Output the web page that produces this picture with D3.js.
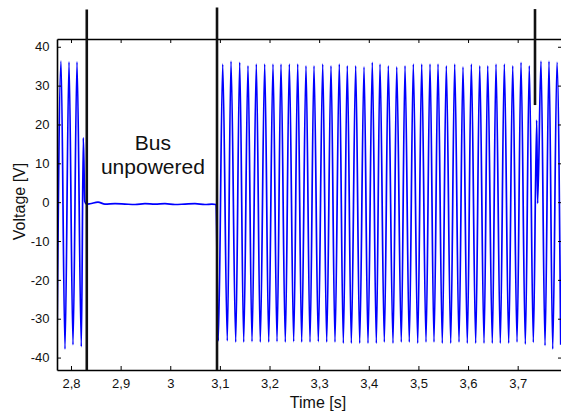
<!DOCTYPE html>
<html>
<head>
<meta charset="utf-8">
<script src="https://cdn.jsdelivr.net/npm/d3@7"></script>
<style>
  html, body { margin: 0; padding: 0; background: #fff; }
  svg { display: block; font-family: "Liberation Sans", Arial, Helvetica, sans-serif; }
</style>
</head>
<body>
<svg id="chart" width="561" height="414"></svg>
<script>
// ---- data ----
const timeS = [
  2.7718, 2.7799, 2.7879, 2.7960, 2.8040, 2.8121, 2.8208, 2.8248, 2.8278, 2.8312,
  2.8383, 2.8544, 2.8685, 2.8887, 2.9088, 2.9290, 2.9491, 2.9693, 2.9894, 3.0095,
  3.0297, 3.0498, 3.0700, 3.0841, 3.0922,
  3.0968, 3.1057, 3.1149, 3.1224, 3.1319, 3.1399, 3.1480, 3.1566, 3.1647, 3.1734,
  3.1814, 3.1903, 3.1984, 3.2070, 3.2151, 3.2231, 3.2318, 3.2399, 3.2487, 3.2568,
  3.2648, 3.2735, 3.2816, 3.2896, 3.2983, 3.3072, 3.3152, 3.3239, 3.3319, 3.3406,
  3.3487, 3.3567, 3.3648, 3.3736, 3.3817, 3.3904, 3.3984, 3.4071, 3.4152, 3.4226,
  3.4313, 3.4393, 3.4488, 3.4563, 3.4655, 3.4730, 3.4816, 3.4897, 3.4986, 3.5066,
  3.5153, 3.5234, 3.5314, 3.5395, 3.5481, 3.5562, 3.5651, 3.5731, 3.5818, 3.5898,
  3.5985, 3.6066, 3.6154, 3.6235, 3.6322, 3.6396, 3.6489, 3.6563, 3.6650, 3.6731,
  3.6819, 3.6900, 3.6987, 3.7067, 3.7154, 3.7234, 3.7315, 3.7383, 3.7402, 3.7470,
  3.7551, 3.7631, 3.7706, 3.7792, 3.7867
];
const voltageV = [
  -36.5, 36.3, -37.8, 36.1, -36.7, 36.1, -37.2, 16.6, 0.2, -0.5,
  -0.4, 0.0, -0.5, -0.4, -0.5, -0.6, -0.4, -0.5, -0.4, -0.6,
  -0.5, -0.4, -0.6, -0.5, -0.6,
  -35.7, 35.55, -35.7, 36.3, -36.0, 36.0, -36.0, 35.1, -35.9, 35.55,
  -36.0, 35.55, -36.0, 35.55, -35.9, 35.55, -36.0, 35.55, -35.9, 35.55,
  -36.0, 35.1, -36.0, 35.1, -35.9, 35.55, -36.0, 35.1, -36.0, 35.55,
  -36.3, 35.1, -36.3, 35.1, -36.3, 34.8, -36.3, 36.0, -36.3, 35.55,
  -36.0, 35.1, -36.3, 34.8, -36.0, 35.1, -36.0, 35.55, -36.3, 35.55,
  -36.0, 35.55, -36.0, 35.55, -36.3, 35.1, -36.3, 35.55, -36.0, 34.8,
  -36.3, 35.55, -36.3, 35.1, -36.3, 35.1, -36.3, 35.55, -36.3, 35.55,
  -36.3, 35.1, -36.0, 36.0, -36.55, 35.1, -36.1, 21.1, -0.3, 36.3,
  -36.9, 36.3, -37.8, 36.0, -36.7
];
// event markers (vertical black bars)
const markerTimes = [2.8318, 3.0942, 3.7349];
const markerTopV = [49.6, 50.1, 49.7];
const markerBottomV = [-43.2, -43.2, 25.0];

const xTicks = [2.8, 2.9, 3.0, 3.1, 3.2, 3.3, 3.4, 3.5, 3.6, 3.7];
const xTickLabels = ["2,8", "2,9", "3", "3,1", "3,2", "3,3", "3,4", "3,5", "3,6", "3,7"];
const yTicks = [-40, -30, -20, -10, 0, 10, 20, 30, 40];
const yTickLabels = ["-40", "-30", "-20", "-10", "0", "10", "20", "30", "40"];
const xDomain = [2.7718, 3.7893];
const yDomain = [-43.2, 42.0];
const annotation = ["Bus", "unpowered"];
const annotationAt = [2.965, 32.0];
const xTitle = "Time [s]";
const yTitle = "Voltage [V]";

// ---- layout ----
const plotL = 57, plotR = 562, plotT = 39, plotB = 370;
const svg = d3.select("#chart");

const x = d3.scaleLinear().domain(xDomain).range([plotL, plotR]);
const y = d3.scaleLinear().domain(yDomain).range([plotB, plotT]);

svg.append("defs").append("clipPath").attr("id", "clip")
  .append("rect").attr("x", plotL).attr("y", plotT)
  .attr("width", plotR - plotL).attr("height", plotB - plotT);

// signal
const line = d3.line()
  .x((d, i) => x(timeS[i]))
  .y(d => y(d))
  .curve(d3.curveMonotoneX);

svg.append("path")
  .attr("clip-path", "url(#clip)")
  .attr("d", line(voltageV))
  .attr("fill", "none")
  .attr("stroke", "#0000ff")
  .attr("stroke-width", 1.7)
  .attr("stroke-linejoin", "round");

// axes
const fmtX = d => xTickLabels[xTicks.indexOf(d)];
const fmtY = d => yTickLabels[yTicks.indexOf(d)];

function styleAxis(g) {
  g.select(".domain").attr("stroke", "#000").attr("stroke-width", 1.6);
  g.selectAll(".tick line").attr("stroke", "#000").attr("stroke-width", 1);
  g.selectAll(".tick text").attr("fill", "#111").attr("font-size", 13)
    .attr("font-family", "'Liberation Sans', Arial, sans-serif");
}

svg.append("g").attr("transform", `translate(0,${plotB})`)
  .call(d3.axisBottom(x).tickValues(xTicks).tickFormat(fmtX).tickSizeInner(-4).tickSizeOuter(0).tickPadding(9))
  .call(styleAxis);
svg.append("g").attr("transform", `translate(0,${plotT})`)
  .call(d3.axisTop(x).tickValues(xTicks).tickFormat("").tickSizeInner(-4).tickSizeOuter(0))
  .call(styleAxis);
svg.append("g").attr("transform", `translate(${plotL},0)`)
  .call(d3.axisLeft(y).tickValues(yTicks).tickFormat(fmtY).tickSizeInner(-4).tickSizeOuter(0).tickPadding(7.5))
  .call(styleAxis);
svg.append("g").attr("transform", `translate(${plotR},0)`)
  .call(d3.axisRight(y).tickValues(yTicks).tickFormat("").tickSizeInner(-4).tickSizeOuter(0))
  .call(styleAxis);

// event markers
svg.append("g").selectAll("line").data(markerTimes).join("line")
  .attr("x1", d => x(d)).attr("x2", d => x(d))
  .attr("y1", (d, i) => y(markerTopV[i]))
  .attr("y2", (d, i) => y(markerBottomV[i]))
  .attr("stroke", "#111").attr("stroke-width", 2.6);

// titles
svg.append("text")
  .attr("x", 318).attr("y", 408)
  .attr("text-anchor", "middle").attr("font-size", 16).attr("fill", "#111")
  .text(xTitle);
svg.append("text")
  .attr("transform", "translate(25,201.5) rotate(-90)")
  .attr("text-anchor", "middle").attr("font-size", 16).attr("fill", "#111")
  .text(yTitle);

// annotation
const ann = svg.append("text")
  .attr("x", x(annotationAt[0])).attr("y", 149.5)
  .attr("text-anchor", "middle").attr("font-size", 21).attr("fill", "#111");
ann.selectAll("tspan").data(annotation).join("tspan")
  .attr("x", x(annotationAt[0]))
  .attr("dy", (d, i) => i === 0 ? 0 : 24.8)
  .text(d => d);
</script>
</body>
</html>
